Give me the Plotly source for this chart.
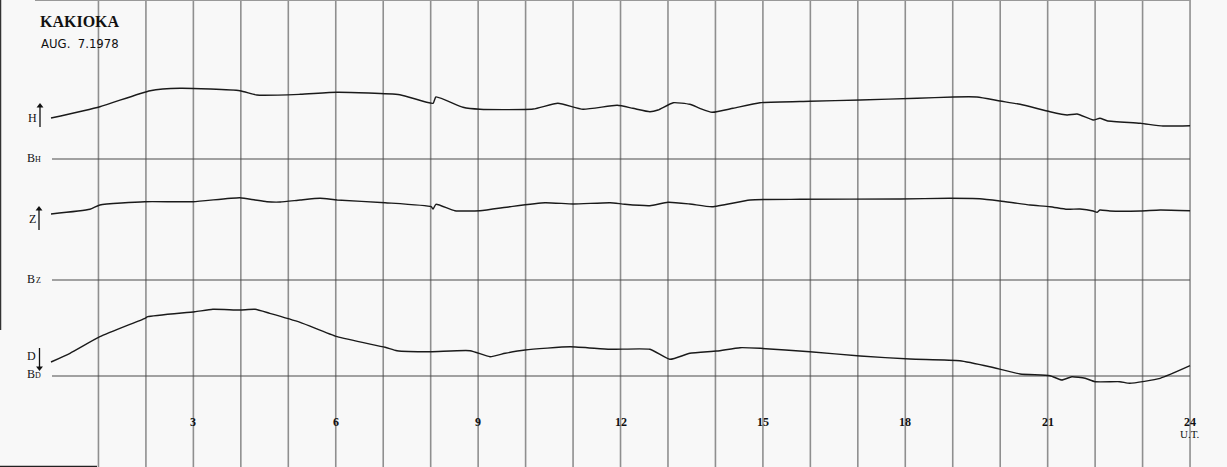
import plotly.graph_objects as go

# ---- data (hours UT, trace level in chart units) ----
h_H = [0.00, 1.03, 2.09, 2.72, 3.98, 4.34, 5.25, 6.03, 7.35, 8.05, 8.11, 8.68, 9.04, 10.16, 10.68,
       11.21, 11.93, 12.26, 12.62, 12.79, 13.11, 13.46, 13.67, 13.93, 14.37, 14.94, 15.99, 17.05,
       18.25, 19.01, 19.51, 20.00, 20.42, 21.05, 21.41, 21.62, 21.96, 22.10, 22.25, 22.95, 23.43, 24.00]
H_vals = [349, 360.3, 376.3, 378.7, 376.3, 372, 372.7, 374.7, 372.3, 363.7, 370, 359.7, 357.7, 358, 363.7,
          357.7, 361.7, 358.7, 355.3, 357, 364.3, 362.7, 358.7, 354.7, 358.7, 364.3, 365.7, 367,
          368.7, 370, 370, 366, 362.7, 355.3, 352, 353, 347, 348.7, 346.3, 343.7, 341, 341.3]

h_Z = [0.00, 0.82, 1.03, 1.98, 2.99, 3.98, 4.30, 4.55, 4.83, 5.25, 5.67, 6.03, 7.04, 8.01, 8.05, 8.11,
       8.51, 9.04, 9.67, 10.41, 11.00, 11.78, 12.09, 12.62, 13.00, 13.46, 13.93, 14.73, 15.78, 17.89,
       18.94, 19.57, 20.00, 20.63, 21.05, 21.41, 21.68, 21.96, 22.04, 22.10, 22.31, 22.95, 23.37, 24.00]
Z_vals = [253, 257.7, 262, 265.3, 265.3, 269.3, 267, 265.3, 265, 267, 268.7, 267, 264.3, 260.3, 258, 262.7,
          256.3, 256.3, 260.3, 264.3, 263, 264.3, 262.7, 261.3, 264.7, 263, 260.3, 267, 267.7, 268,
          268.7, 268.3, 266, 262, 260.3, 257.7, 258, 256, 254.7, 257, 256, 256, 257, 256.3]

h_D = [0.00, 0.40, 1.03, 1.98, 2.04, 3.03, 3.41, 3.98, 4.30, 4.61, 5.25, 6.03, 7.04, 7.29, 7.99, 8.83,
       9.25, 9.57, 9.99, 10.94, 11.78, 12.62, 13.04, 13.46, 14.03, 14.52, 14.94, 15.99, 17.05, 18.10,
       19.15, 19.78, 20.42, 21.05, 21.30, 21.51, 21.79, 22.00, 22.52, 22.73, 23.37, 24.00]
D_vals = [105, 113.7, 130.3, 148.7, 150.3, 155.3, 157.7, 157, 157.7, 153.7, 144.7, 130.3, 119.7, 116.3,
          115.3, 116.3, 110.3, 113.7, 117, 120.3, 117.7, 117.7, 107.7, 113.7, 116, 119.3, 118.7, 115.3,
          111, 108, 106.3, 100.3, 93, 91.3, 87, 90.3, 88.7, 85.3, 85.3, 83.7, 88.7, 101.3]

base_H = 308
base_Z = 187
base_D = 91

grid_hours = list(range(1, 25))
tick_hours = [3, 6, 9, 12, 15, 18, 21, 24]
tick_labels = ["3", "6", "9", "12", "15", "18", "21", "24"]

# ---- layout helpers ----
W, Hh = 1227, 467
PX0, PXH = 51, 47.46          # pixel of hour 0, pixels per hour
def hx(px):
    return (px - PX0) / PXH
def vy(py):
    return Hh - py

fig = go.Figure()

trace_style = dict(mode="lines", line=dict(color="#1a1a1a", width=1.4, shape="spline", smoothing=0.5),
                   hoverinfo="skip", showlegend=False)
for xs, ys in [(h_H, H_vals), (h_Z, Z_vals), (h_D, D_vals)]:
    fig.add_trace(go.Scatter(x=xs, y=ys, **trace_style))

shapes = []
for h in grid_hours:
    shapes.append(dict(type="line", xref="x", yref="y", x0=h, x1=h, y0=0, y1=Hh,
                       line=dict(color="#8f8f8f", width=1.6), layer="below"))
for b in [base_H, base_Z, base_D]:
    shapes.append(dict(type="line", xref="x", yref="y", x0=0.02, x1=24, y0=b, y1=b,
                       line=dict(color="#4a4a4a", width=1.1), layer="below"))
# scan borders
shapes.append(dict(type="line", xref="x", yref="y", x0=hx(0.5), x1=hx(0.5), y0=vy(330), y1=Hh,
                   line=dict(color="#333", width=1.5)))
shapes.append(dict(type="line", xref="x", yref="y", x0=hx(35), x1=24, y0=vy(0.5), y1=vy(0.5),
                   line=dict(color="#999", width=1)))
shapes.append(dict(type="line", xref="x", yref="y", x0=hx(0), x1=hx(97), y0=vy(466.5), y1=vy(466.5),
                   line=dict(color="#222", width=1.5)))

# component direction arrows (stem + head)
arrow_x = [hx(40), hx(39), hx(39.5)]
arrow_tail = [vy(127), vy(230), vy(348)]
arrow_head = [vy(106), vy(209), vy(368)]
arrow_sym = ["triangle-up", "triangle-up", "triangle-down"]
for ax_, t, hd in zip(arrow_x, arrow_tail, arrow_head):
    shapes.append(dict(type="line", xref="x", yref="y", x0=ax_, x1=ax_, y0=t, y1=hd,
                       line=dict(color="#111", width=1.3)))
fig.add_trace(go.Scatter(x=arrow_x, y=arrow_head, mode="markers",
                         marker=dict(symbol=arrow_sym, size=6, color="#111"),
                         hoverinfo="skip", showlegend=False))

ann = []
serif = "Liberation Serif, Times New Roman, serif"
narrow = "Liberation Sans Narrow, Arial Narrow, DejaVu Sans Condensed, sans-serif"
ann.append(dict(x=hx(38), y=vy(21), xanchor="left", yanchor="middle", text="<b>KAKIOKA</b>",
                font=dict(family=serif, size=16, color="#111"), showarrow=False))
ann.append(dict(x=hx(39), y=vy(43), xanchor="left", yanchor="middle", text="AUG.  7.1978",
                font=dict(family=narrow, size=13, color="#111"), showarrow=False))

lab_font = dict(family=serif, size=12, color="#111")
sub_font = dict(family=serif, size=8, color="#111")
ann.append(dict(x=hx(32), y=vy(118), text="H", font=lab_font, showarrow=False))
ann.append(dict(x=hx(32), y=vy(219), text="Z", font=lab_font, showarrow=False))
ann.append(dict(x=hx(31), y=vy(356), text="D", font=lab_font, showarrow=False))
for py, sub in [(158, "H"), (279, "Z"), (374, "D")]:
    ann.append(dict(x=hx(31), y=vy(py), text="B", font=lab_font, showarrow=False))
    ann.append(dict(x=hx(38), y=vy(py + 1), text=sub, font=sub_font, showarrow=False))

tick_font = dict(family=serif, size=12, color="#111")
for h, t in zip(tick_hours, tick_labels):
    ann.append(dict(x=h, y=vy(422), text="<b>%s</b>" % t, font=tick_font, showarrow=False))
ann.append(dict(x=24, y=vy(434), text="U.T.", font=dict(family=serif, size=11, color="#111"),
                showarrow=False))

fig.update_layout(
    width=W, height=Hh,
    margin=dict(l=0, r=0, t=0, b=0),
    paper_bgcolor="#f8f8f8", plot_bgcolor="#f8f8f8",
    xaxis=dict(range=[hx(0), hx(W)], visible=False, fixedrange=True),
    yaxis=dict(range=[0, Hh], visible=False, fixedrange=True),
    shapes=shapes, annotations=ann, showlegend=False,
)

fig.write_html("out.html", config=dict(displayModeBar=False),
               post_script="document.body.style.margin='0';document.body.style.overflow='hidden';")
